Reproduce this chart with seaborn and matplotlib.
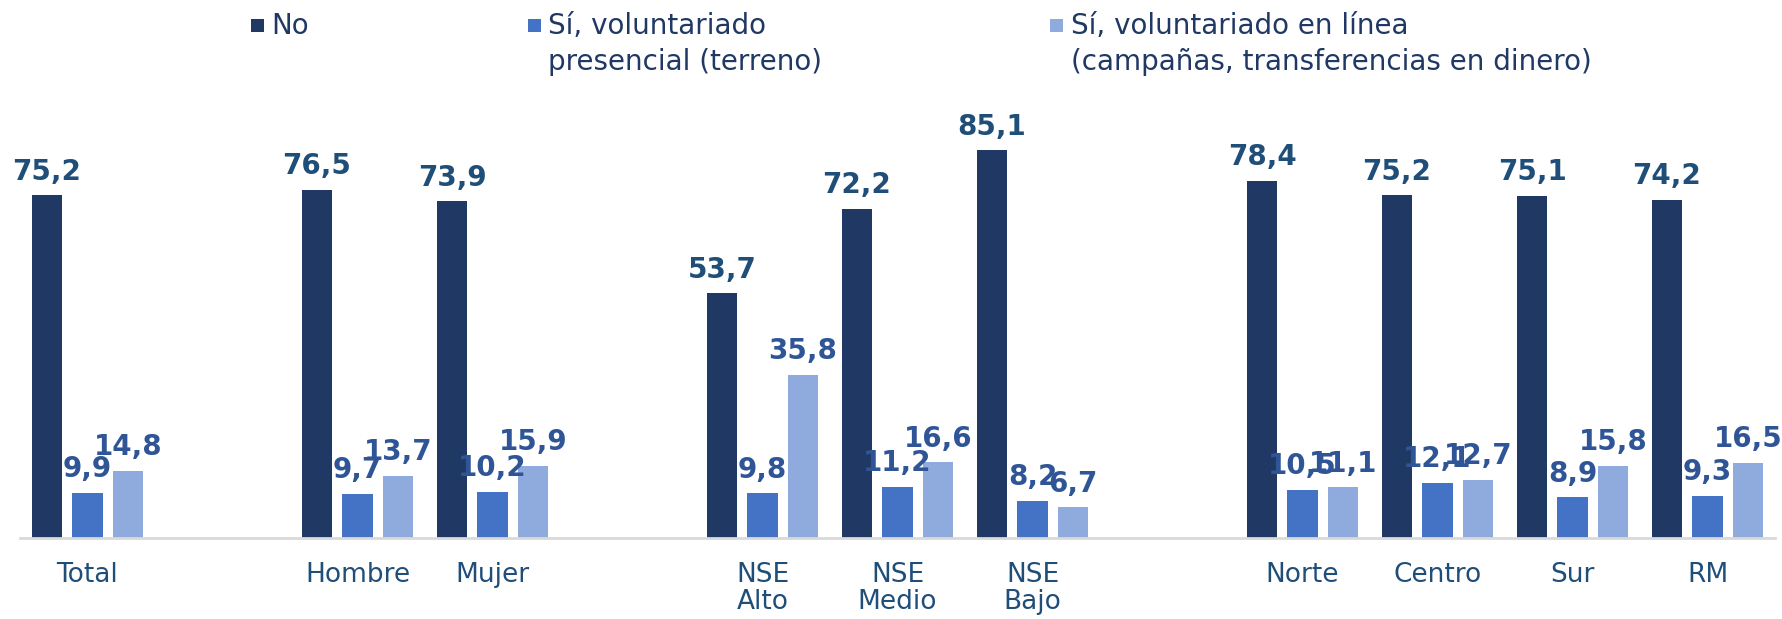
import matplotlib
matplotlib.use("Agg")
import matplotlib.pyplot as plt
import seaborn as sns
import pandas as pd
from matplotlib.patches import Rectangle

categories = ["Total", "Hombre", "Mujer", "NSE\nAlto", "NSE\nMedio", "NSE\nBajo",
              "Norte", "Centro", "Sur", "RM"]
slot_order = ["Total", " ", "Hombre", "Mujer", "  ", "NSE\nAlto", "NSE\nMedio", "NSE\nBajo",
              "   ", "Norte", "Centro", "Sur", "RM"]
series_names = ["No", "Sí, voluntariado\npresencial (terreno)",
                "Sí, voluntariado en línea\n(campañas, transferencias en dinero)"]
no_vals = [75.2, 76.5, 73.9, 53.7, 72.2, 85.1, 78.4, 75.2, 75.1, 74.2]
presencial_vals = [9.9, 9.7, 10.2, 9.8, 11.2, 8.2, 10.5, 12.1, 8.9, 9.3]
linea_vals = [14.8, 13.7, 15.9, 35.8, 16.6, 6.7, 11.1, 12.7, 15.8, 16.5]

colors = ["#203864", "#4472C4", "#8FAADC"]
label_colors = ["#1F4E79", "#2F5597", "#2F5597"]

rows = []
for name, vals in zip(series_names, [no_vals, presencial_vals, linea_vals]):
    for c, v in zip(categories, vals):
        rows.append({"cat": c, "serie": name, "valor": v})
df = pd.DataFrame(rows)

sns.set_style("white")
plt.rcParams["font.family"] = ["DejaVu Sans"]

W, H = 1783, 619
fig = plt.figure(figsize=(W / 100, H / 100), dpi=100)
ax = fig.add_axes([20 / W, 81 / H, 1755 / W, 455.5 / H])

sns.barplot(data=df, x="cat", y="valor", hue="serie", order=slot_order,
            hue_order=series_names, palette=colors, saturation=1,
            width=0.9, gap=0.24, linewidth=0, ax=ax, legend=False, errorbar=None)

for cont, lc in zip(ax.containers, label_colors):
    ax.bar_label(cont, fmt=lambda v: f"{v:.1f}".replace(".", ","), padding=7,
                 fontsize=20, fontweight="bold", color=lc)

ax.set_ylim(0, 100)
ax.set_xlim(-0.5, len(slot_order) - 0.5)
ax.set_xlabel("")
ax.set_ylabel("")
ax.set_yticks([])
for s in ["top", "left", "right"]:
    ax.spines[s].set_visible(False)
ax.spines["bottom"].set_color("#D9D9D9")
ax.spines["bottom"].set_linewidth(2)
ax.tick_params(axis="x", length=0, pad=17, labelsize=19, labelcolor="#1F4E79")
for t in ax.get_xticklabels():
    t.set_linespacing(1.05)

# Legend (handles aligned with the first text line, as in the original)
legend_marker_x = [251, 528, 1050]
legend_text_x = [271, 548, 1071]
line_baselines = [34, 70]
for mx, tx, name, c in zip(legend_marker_x, legend_text_x, series_names, colors):
    fig.patches.append(Rectangle((mx / W, 1 - 32 / H), 13 / W, 13 / H,
                                 transform=fig.transFigure, facecolor=c,
                                 edgecolor="none"))
    for line, by in zip(name.split("\n"), line_baselines):
        fig.text(tx / W, 1 - by / H, line, ha="left", va="baseline", fontsize=20,
                 color="#203864")

fig.savefig("out.png", dpi=100)
